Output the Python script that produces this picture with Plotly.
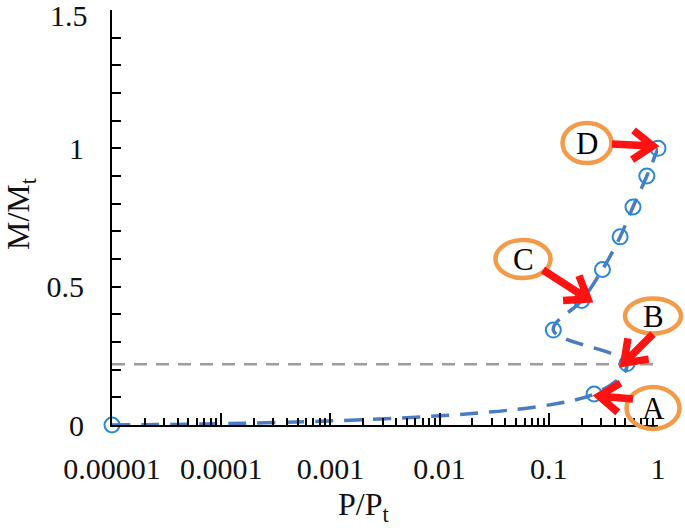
import numpy as np
import plotly.graph_objects as go

# ---- data ----
p_ratio = [1e-5, 0.26, 0.52, 0.11, 0.20, 0.31, 0.45, 0.59, 0.79, 1.0]
m_ratio = [0.0, 0.112, 0.222, 0.343, 0.450, 0.562, 0.680, 0.788, 0.900, 1.0]
ref_level = 0.22
x_tick_vals = [1e-5, 1e-4, 1e-3, 1e-2, 1e-1, 1]
x_tick_text = ["0.00001", "0.0001", "0.001", "0.01", "0.1", "1"]
y_tick_vals = [0, 0.5, 1, 1.5]
y_tick_text = ["0", "0.5", "1", ""]
y_top_label = "1.5"
point_labels = ["A", "B", "C", "D"]

W, H = 685, 528
# plot area on screen: x 112..658, y 10..425
PX0, PX1, PY0, PY1 = 112, 658, 10, 425
PW, PH = PX1 - PX0, PY1 - PY0
L, T, R, B = PX0, PY0, W - PX1, H - PY1


def px2paper(px, py):
    return (px - PX0) / PW, (PY1 - py) / PH


fig = go.Figure()

# horizontal reference line
fig.add_trace(go.Scatter(
    x=[x_tick_vals[0], x_tick_vals[-1]], y=[ref_level, ref_level],
    mode="lines", line=dict(color="#A39C96", width=2.5, dash="13px,9px"),
    hoverinfo="skip", showlegend=False))

# data curve
fig.add_trace(go.Scatter(
    x=p_ratio, y=m_ratio, mode="lines+markers",
    line=dict(color="#4A7CC2", width=3.5, dash="18px,11px", shape="spline", smoothing=1.0),
    marker=dict(symbol="circle-open", size=15, color="#2A88D8", line=dict(width=2, color="#2A88D8")),
    cliponaxis=False, showlegend=False))

shapes = []
annotations = []

ellipses = {  # label: (cx, cy, w, h) in px
    "D": (587, 143, 49, 40),
    "C": (523, 259, 55, 38),
    "B": (653, 316, 56, 35),
    "A": (653, 408, 53, 42),
}
arrows = {  # label: (tail, tip) in px
    "D": ((612, 144), (653, 146)),
    "C": ((543, 270), (588, 299)),
    "B": ((653, 334), (624, 363)),
    "A": ((633, 399), (599, 396)),
}

for lab in point_labels:
    cx, cy, w, h = ellipses[lab]
    x0, y0 = px2paper(cx - w / 2, cy + h / 2)
    x1, y1 = px2paper(cx + w / 2, cy - h / 2)
    shapes.append(dict(type="circle", xref="paper", yref="paper", x0=x0, y0=y0, x1=x1, y1=y1,
                       line=dict(color="#F29B4B", width=4.5), layer="above"))
    ax, ay = px2paper(cx, cy)
    annotations.append(dict(text=lab, x=ax, y=ay, xref="paper", yref="paper", showarrow=False,
                            xanchor="center", yanchor="middle",
                            font=dict(family="Liberation Serif", size=31, color="black")))
    (tx, ty), (hx, hy) = arrows[lab]
    d = np.array([tx - hx, ty - hy], dtype=float)
    d /= np.linalg.norm(d)
    arms = []
    for ang in (np.radians(36), -np.radians(36)):
        rot = np.array([[np.cos(ang), -np.sin(ang)], [np.sin(ang), np.cos(ang)]])
        v = rot @ d * 25
        arms.append((hx + v[0], hy + v[1]))
    pts = [(tx, ty), (hx, hy), arms[0], (hx, hy), arms[1]]
    pp = [px2paper(*p) for p in pts]
    path = (f"M {pp[0][0]},{pp[0][1]} L {pp[1][0]},{pp[1][1]} "
            f"M {pp[2][0]},{pp[2][1]} L {pp[3][0]},{pp[3][1]} L {pp[4][0]},{pp[4][1]}")
    shapes.append(dict(type="path", xref="paper", yref="paper", path=path,
                       line=dict(color="#FF1212", width=7.5), layer="above"))

tick_font = dict(family="Liberation Serif", size=30, color="#111111")
title_font = dict(family="Liberation Serif", size=32, color="#111111")

# top y tick label (kept inside the page)
tx_, ty_ = px2paper(90, 15)
annotations.append(dict(text=y_top_label, x=tx_, y=ty_, xref="paper", yref="paper",
                        showarrow=False, xanchor="right", yanchor="middle", font=tick_font))

# axis titles as annotations
tx_, ty_ = px2paper(363, 506)
annotations.append(dict(text="P/P<sub>t</sub>", x=tx_, y=ty_, xref="paper", yref="paper",
                        showarrow=False, xanchor="center", yanchor="middle", font=title_font))
tx_, ty_ = px2paper(21, 214)
annotations.append(dict(text="M/M<sub>t</sub>", x=tx_, y=ty_, xref="paper", yref="paper",
                        showarrow=False, xanchor="center", yanchor="middle", textangle=-90,
                        font=title_font))

minor_x = [k * 10.0 ** e for e in range(-5, 0) for k in range(2, 10)]

fig.update_layout(
    width=W, height=H, margin=dict(l=L, r=R, t=T, b=B),
    plot_bgcolor="white", paper_bgcolor="white",
    shapes=shapes, annotations=annotations,
    xaxis=dict(type="log", range=[-5, 0], tickvals=x_tick_vals, ticktext=x_tick_text,
               ticks="inside", ticklen=12, tickwidth=2, tickcolor="black", automargin=False,
               showline=True, linecolor="black", linewidth=2, showgrid=False, zeroline=False,
               minor=dict(tickvals=minor_x, ticks="inside", ticklen=7, tickwidth=1.5,
                          tickcolor="black", showgrid=False),
               tickfont=tick_font, ticklabelstandoff=16, ticklabeloverflow="allow"),
    yaxis=dict(range=[0, 1.5], tickvals=y_tick_vals, ticktext=y_tick_text,
               ticks="inside", ticklen=9, tickwidth=2, tickcolor="black",
               showline=True, linecolor="black", linewidth=2, showgrid=False, zeroline=False,
               automargin=False,
               minor=dict(dtick=0.1, ticks="inside", ticklen=9, tickwidth=2, tickcolor="black",
                          showgrid=False),
               tickfont=tick_font, ticklabelstandoff=20, ticklabeloverflow="allow"),
)

fig.write_html("out.html", config={"displayModeBar": False},
               post_script="document.body.style.margin='0px';")
